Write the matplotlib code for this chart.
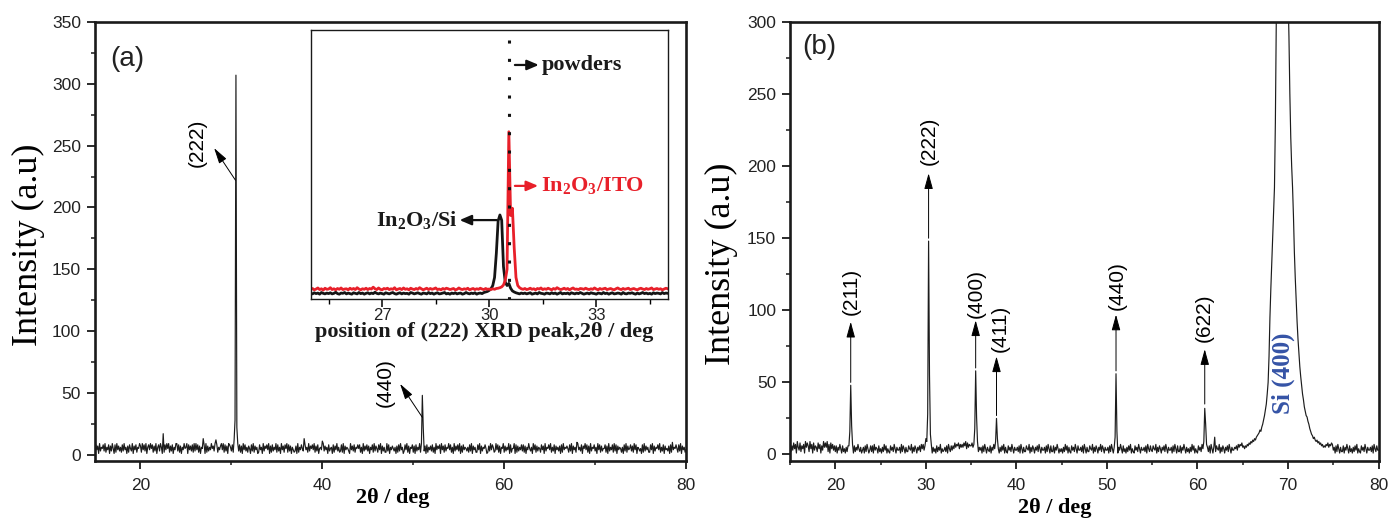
import numpy as np
import matplotlib
matplotlib.use('Agg')
import matplotlib.pyplot as plt
from matplotlib.ticker import MultipleLocator, FixedLocator

plt.rcParams['font.family'] = ['Liberation Sans', 'DejaVu Sans']
plt.rcParams['mathtext.fontset'] = 'custom'
plt.rcParams['mathtext.rm'] = 'Liberation Serif:bold'
plt.rcParams['mathtext.it'] = 'Liberation Serif:bold'
plt.rcParams['mathtext.bf'] = 'Liberation Serif:bold'

# ---- (a) In2O3 film on ITO: counts every 0.1 deg from 15 to 80 (one digit per step)
base_a = ("2847193658" "3926481739" "5182947362" "8394617285" "3917482659"
          "7294839168" "4958273916" "8396172849" "5927381649" "9382716495"
          "6918473829" "3948271659" "8192736495" "7391826479" "4928371986"
          "3827164938" "2719483627" "5183927461" "2846193758" "4917283649"
          "2836194728" "5928371642" "3719264853" "1846293758" "4927381564"
          "2937461835" "6182749362" "3829174653" "1947382658" "5826193748"
          "3716482937" "5284917362" "2938164753" "6172839461" "3849271658"
          "2718364928" "5937182647" "3826194758" "1947283659" "4826193748"
          "3917284653" "6283917462" "2849173658" "5127394862" "3948271659"
          "2736491825" "5918273648" "3827164953" "6194827365" "2847193658"
          "4926381746" "3718294657" "5283917462" "2946381759" "4827193658"
          "3619482735" "5827193648" "2938174652" "6183927458" "3729481653"
          "5182937462" "2849173658" "4926381745" "3718294658" "5283917462"
          "4")
peak_pos_a = [22.5, 26.9, 28.3, 30.3, 30.4, 30.5, 30.6, 30.7, 38.0, 40.0,
              50.9, 51.0, 51.1, 68.0, 78.5]
peak_int_a = [17, 13, 12, 12, 28, 307, 22, 9, 13, 11,
              9, 48, 22, 10, 10]

# ---- (b) In2O3 film on Si
base_b = ("7263847195" "3826471958" "6294718365" "2847163958" "5927184736"
          "2615374162" "4152637142" "1625374251" "3516274136" "2617354162"
          "4152736142" "1635274153" "3517264152" "2643715264" "1536274736"
          "2516374152" "4162537142" "3526174263" "6485768475" "7586948576"
          "6857941625" "3516274153" "2615374162" "4152637152" "1635274153"
          "3526174152" "2643715264" "1536274153" "3516274162" "2615374142"
          "4152736152" "1635274163" "3526174152" "2643715264" "1537264153"
          "3516274152" "2615374162" "4152637142" "1635274153" "3526174263"
          "2643715264" "1536274153" "3516274162" "2615374152" "4152736142"
          "1635274153" "3526174152" "2643715264" "1536274153" "3546375768"
          "5465746576" "6576857687" "7687968798" "8798798798" "8798798798"
          "8798798798" "8798798798" "8798798798" "7687968798" "6576857687"
          "3516274152" "2615374162" "4152637142" "1635274153" "3526174263"
          "3")
peak_pos_b = [21.5, 21.6, 21.7, 21.8, 21.9,
              30.0, 30.1, 30.2, 30.3, 30.4, 30.5, 30.6,
              35.4, 35.5, 35.6, 35.7,
              37.7, 37.8, 37.9,
              50.9, 51.0, 51.1,
              60.7, 60.8, 60.9, 61.0, 61.9]
peak_int_b = [6, 16, 48, 20, 7,
              11, 9, 28, 148, 55, 14, 7,
              18, 58, 26, 9,
              9, 25, 11,
              12, 56, 16,
              9, 32, 21, 7, 12]
# Si (400) substrate reflection, 65.0 ... 74.0 deg
si_start = 65.0
si_400 = [5, 6, 4, 6, 5, 7, 6, 8, 7, 9,
          8, 10, 9, 11, 10, 12, 13, 14, 15, 17,
          16, 19, 21, 24, 27, 31, 35, 42, 50, 68,
          95, 115, 132, 150, 168, 185, 230, 300, 370, 440,
          500, 550, 580, 600, 600, 580, 540, 480, 420, 360,
          320, 290, 250, 220, 200, 185, 165, 140, 122, 107,
          92, 80, 70, 61, 54, 48, 42, 38, 33, 30,
          27, 26, 23, 21, 18, 16, 14, 13, 11, 12,
          10, 9, 10, 8, 9, 7, 8, 6, 7, 5, 6]

hkl_b = ['(211)', '(222)', '(400)', '(411)', '(440)', '(622)']
hkl_pos_b = [21.7, 30.3, 35.5, 37.8, 51.0, 60.8]

# ---- inset: (222) region, intensity x10, every 0.05 deg from 25 to 35
ito_222 = [36, 39, 34, 37, 41, 35, 38, 33, 40, 36, 37, 42, 35, 38, 34, 39, 36, 41, 35, 37,
           38, 34, 40, 36, 39, 35, 42, 37, 34, 38, 36, 40, 35, 39, 37, 44, 38, 35, 41, 36,
           34, 39, 37, 40, 35, 38, 36, 42, 34, 37, 39, 35, 41, 36, 38, 34, 40, 37, 35, 39,
           36, 42, 38, 34, 37, 40, 35, 39, 36, 38, 41, 35, 37, 34, 39, 36, 40, 38, 35, 37,
           39, 34, 36, 41, 37, 35, 38, 36, 40, 34, 37, 39, 35, 38, 36, 40, 37, 35, 39, 36,
           37, 35, 38, 36, 39, 40, 42, 45, 52, 70, 110, 621, 310, 337, 190, 80, 50, 42, 38, 36,
           39, 35, 37, 40, 36, 38, 34, 39, 37, 41, 35, 38, 36, 40, 37, 34, 39, 36, 42, 38,
           35, 37, 40, 36, 39, 34, 38, 41, 36, 37, 35, 39, 38, 36, 40, 37, 35, 38, 36, 41,
           37, 34, 39, 36, 38, 40, 35, 37, 39, 36, 34, 38, 41, 37, 35, 39, 36, 38, 40, 35,
           37, 39, 36, 34, 38, 40, 37, 35, 39, 36, 38, 41, 35, 37, 39, 36, 38, 34, 37, 40,
           38]
si_222 = [21, 19, 23, 20, 22, 18, 24, 21, 19, 22, 20, 23, 19, 21, 25, 20, 18, 22, 21, 24,
          19, 22, 20, 18, 23, 21, 19, 24, 20, 22, 18, 21, 23, 19, 22, 20, 25, 21, 19, 22,
          20, 18, 23, 21, 19, 22, 24, 20, 18, 21, 23, 19, 22, 20, 21, 18, 24, 22, 19, 21,
          23, 20, 18, 22, 21, 19, 24, 20, 22, 18, 21, 23, 19, 20, 22, 24, 19, 21, 18, 22,
          20, 23, 19, 21, 22, 18, 20, 24, 21, 19, 22, 20, 23, 18, 21, 22, 20, 24, 26, 28,
          32, 38, 50, 80, 170, 290, 312, 292, 120, 62, 50, 58, 40, 30, 26, 23, 21, 19, 22, 20,
          22, 19, 21, 23, 18, 20, 22, 19, 24, 21, 20, 18, 22, 21, 19, 23, 20, 22, 18, 21,
          24, 19, 21, 20, 22, 18, 23, 21, 19, 22, 20, 24, 21, 18, 20, 22, 19, 23, 21, 20,
          18, 22, 21, 19, 24, 20, 22, 18, 21, 23, 19, 20, 22, 21, 18, 24, 20, 19, 22, 21,
          23, 20, 18, 22, 19, 21, 24, 20, 22, 19, 21, 18, 23, 20, 22, 21, 19, 24, 20, 22,
          21]
powder_222 = 30.55


def build_pattern(digits, pos, vals, start=15.0, step=0.1):
    counts = np.array([int(c) for c in digits], dtype=float)
    tt = np.round(start + step * np.arange(len(counts)), 2)
    for p, v in zip(pos, vals):
        counts[np.argmin(np.abs(tt - p))] = v
    return tt, counts


tt_a, cnt_a = build_pattern(base_a, peak_pos_a, peak_int_a)
tt_b, cnt_b = build_pattern(base_b, peak_pos_b, peak_int_b)
i0 = np.argmin(np.abs(tt_b - si_start))
cnt_b[i0:i0 + len(si_400)] = si_400

tt_in = np.linspace(25, 35, len(ito_222))
ito = np.array(ito_222) / 10
si = np.array(si_222) / 10

SERIF = 'Liberation Serif'
LINE = '#1c1c1c'


def style_main(ax):
    for s in ax.spines.values():
        s.set_linewidth(1.9)
        s.set_color('#1a1a1a')
    ax.tick_params(which='both', direction='out', top=False, right=False,
                   labelsize=12.5, labelcolor='#222222', color='#1a1a1a')
    ax.tick_params(which='major', length=6, width=1.3)
    ax.tick_params(which='minor', length=3, width=1.1)
    ax.tick_params(axis='x', pad=6)
    ax.tick_params(axis='y', pad=4)


fig = plt.figure(figsize=(13.89, 5.19), dpi=100)

# ---------------- panel (a)
ax1 = fig.add_axes([0.0684, 0.1108, 0.4255, 0.8468])
ax1.plot(tt_a, cnt_a, color=LINE, lw=0.85)
ax1.set_xlim(15, 80)
ax1.set_ylim(-5.5, 350)
ax1.xaxis.set_major_locator(MultipleLocator(20))
ax1.xaxis.set_minor_locator(MultipleLocator(10))
ax1.yaxis.set_major_locator(MultipleLocator(50))
ax1.yaxis.set_minor_locator(MultipleLocator(25))
style_main(ax1)
ax1.set_ylabel('Intensity (a.u)', family=SERIF, fontsize=26, va='center')
ax1.yaxis.set_label_coords(-0.112, 0.494)
ax1.set_xlabel('2θ / deg', family=SERIF, fontweight='bold', fontsize=16, va='center')
ax1.xaxis.set_label_coords(0.504, -0.083)
ax1.text(0.055, 0.916, '(a)', transform=ax1.transAxes, fontsize=20,
         ha='center', va='center', color='#222222')

arrow_kw = dict(arrowstyle='-|>,head_length=0.8,head_width=0.22', color='k',
                lw=0.7, shrinkA=0, shrinkB=0, mutation_scale=12)
ax1.annotate('', xy=(28.1, 248), xytext=(30.45, 222), arrowprops=arrow_kw)
ax1.text(26.2, 252, '(222)', rotation=90, fontsize=15, ha='center', va='center')
ax1.annotate('', xy=(48.55, 57.3), xytext=(51.0, 30.2), arrowprops=arrow_kw)
ax1.text(46.9, 58.6, '(440)', rotation=90, fontsize=15, ha='center', va='center')

# ---------------- inset of (a)
axi = fig.add_axes([0.2237, 0.4239, 0.2570, 0.5189])
axi.plot(tt_in, si, color='#151515', lw=2.0)
axi.plot(tt_in, ito, color='#e8202a', lw=2.0)
axi.plot([powder_222, powder_222], [96, 0], color='#111111', lw=2.2,
         linestyle=(0, (1, 5)), dash_capstyle='butt')
axi.set_xlim(25, 35)
axi.set_ylim(0, 100)
axi.xaxis.set_major_locator(FixedLocator([27, 30, 33]))
axi.xaxis.set_minor_locator(FixedLocator([25.5, 28.5, 31.5, 34.5]))
axi.tick_params(axis='y', left=False, labelleft=False)
axi.tick_params(axis='x', which='both', direction='out', top=False, pad=1,
                labelsize=12, labelcolor='#222222')
axi.tick_params(axis='x', which='major', length=5.5, width=1.1)
axi.tick_params(axis='x', which='minor', length=3.5, width=1.0)
for s in axi.spines.values():
    s.set_linewidth(1.0)
    s.set_color('#1a1a1a')
axi.set_xlabel('position of (222) XRD peak,2θ / deg', family=SERIF,
               fontweight='bold', fontsize=16, va='center', color='#1a1a1a')
axi.xaxis.set_label_coords(0.485, -0.121)

in_arrow = dict(arrowstyle='-|>,head_length=0.7,head_width=0.3', lw=1.6,
                shrinkA=0, shrinkB=0, mutation_scale=10)
axi.annotate('', xy=(31.39, 86.9), xytext=(30.72, 86.9),
             arrowprops=dict(in_arrow, color='#111111'))
axi.text(31.47, 86.9, 'powders', family=SERIF, fontweight='bold', fontsize=16,
         ha='left', va='center', color='#1a1a1a')
axi.annotate('', xy=(31.37, 42.0), xytext=(30.72, 42.0),
             arrowprops=dict(in_arrow, color='#e8202a'))
axi.text(31.44, 42.0, r'In$_2$O$_3$/ITO', family=SERIF, fontweight='bold',
         fontsize=16, ha='left', va='center', color='#e8202a')
axi.annotate('', xy=(29.17, 29.3), xytext=(30.21, 29.3),
             arrowprops=dict(in_arrow, color='#111111'))
axi.text(29.13, 29.3, r'In$_2$O$_3$/Si', family=SERIF, fontweight='bold',
         fontsize=16, ha='right', va='center', color='#1a1a1a')

# ---------------- panel (b)
ax2 = fig.add_axes([0.5688, 0.1118, 0.4237, 0.8459])
ax2.plot(tt_b, cnt_b, color=LINE, lw=0.85)
ax2.set_xlim(15, 80)
ax2.set_ylim(-4.5, 300)
ax2.xaxis.set_major_locator(MultipleLocator(10))
ax2.xaxis.set_minor_locator(MultipleLocator(5))
ax2.yaxis.set_major_locator(MultipleLocator(50))
ax2.yaxis.set_minor_locator(MultipleLocator(25))
style_main(ax2)
ax2.set_ylabel('Intensity (a.u)', family=SERIF, fontsize=26, va='center')
ax2.yaxis.set_label_coords(-0.1165, 0.45)
ax2.set_xlabel('2θ / deg', family=SERIF, fontweight='bold', fontsize=16, va='center')
ax2.xaxis.set_label_coords(0.45, -0.107)
ax2.text(0.049, 0.943, '(b)', transform=ax2.transAxes, fontsize=20,
         ha='center', va='center', color='#222222')

arrow_start = [50, 150, 60, 27, 58, 35]
arrow_tip = [92, 195, 93, 68, 97, 73]
label_x = [21.8, 30.4, 35.6, 38.2, 51.1, 60.8]
label_y = [97, 201, 95, 71, 100, 78]
for name, x, y0, y1, lx, ly in zip(hkl_b, hkl_pos_b, arrow_start, arrow_tip, label_x, label_y):
    ax2.annotate('', xy=(x, y1), xytext=(x, y0), arrowprops=arrow_kw)
    ax2.text(lx, ly, name, rotation=90, fontsize=15, ha='center', va='bottom')
ax2.text(69.5, 56, 'Si (400)', rotation=90, family=SERIF, fontweight='bold',
         fontsize=18, color='#3553a6', ha='center', va='center')

fig.savefig('out.png', dpi=100)
